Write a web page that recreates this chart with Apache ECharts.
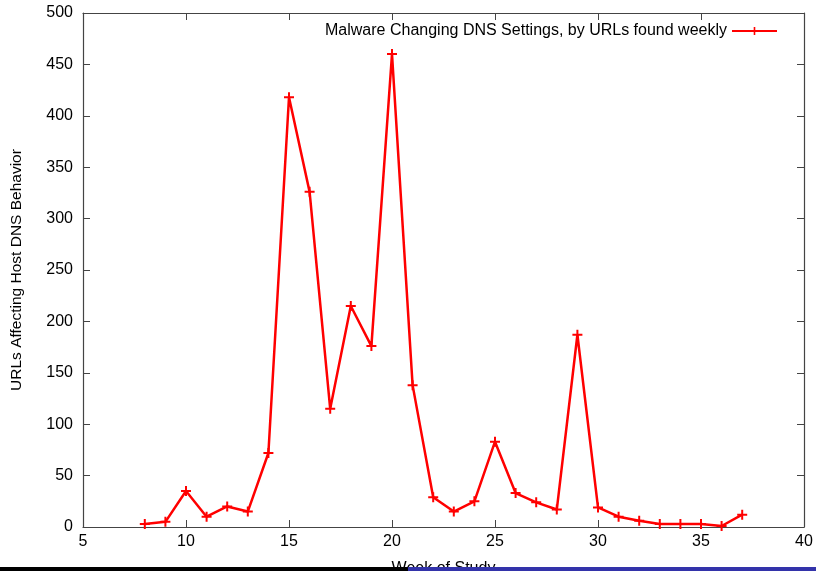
<!DOCTYPE html>
<html><head><meta charset="utf-8">
<script src="https://cdn.jsdelivr.net/npm/echarts@6/dist/echarts.min.js"></script>
<style>html,body{margin:0;padding:0;background:#fff}#c{width:816px;height:571px}</style>
</head><body><div id="c"></div>
<script>
const weeks = [8,9,10,11,12,13,14,15,16,17,18,19,20,21,22,23,24,25,26,27,28,29,30,31,32,33,34,35,36,37];
const urls  = [3,5,35,10,20,15,72,418,326,115,215,176,460,138,29,15,25,83,33,24,17,187,19,10,6,3,3,3,1,12];
const seriesName = 'Malware Changing DNS Settings, by URLs found weekly';
const xTitle = 'Week of Study';
const yTitle = 'URLs Affecting Host DNS Behavior';

const font = 'Liberation Sans, Arial, sans-serif';
const axisCol = '#444';
const plus = 'path://M4,0h2v4h4v2h-4v4h-2v-4h-4v-2h4z';
const chart = echarts.init(document.getElementById('c'));
const common = {
  axisLine:{show:true,onZero:false,lineStyle:{color:axisCol,width:1.2}},
  axisTick:{show:true,inside:true,length:7,lineStyle:{color:axisCol}},
  splitLine:{show:false}
};
chart.setOption({
  animation:false,
  backgroundColor:'#fff',
  grid:{left:83,right:12,top:13,bottom:44,containLabel:false,outerBoundsMode:'none'},
  legend:{
    top:18,right:33,align:'right',itemWidth:45,itemHeight:10,itemGap:11,
    textStyle:{fontFamily:font,fontSize:16,color:'#000'},
    data:[{name:seriesName}]
  },
  xAxis:[
    Object.assign({type:'value',min:5,max:40,interval:5,name:xTitle,nameLocation:'middle',nameGap:34,
      nameTextStyle:{fontFamily:font,fontSize:16,color:'#000'},
      axisLabel:{fontFamily:font,fontSize:16,color:'#000',margin:7}},common),
    Object.assign({type:'value',min:5,max:40,interval:5,position:'top',axisLabel:{show:false}},common)
  ],
  yAxis:[
    Object.assign({type:'value',min:0,max:500,interval:50,name:yTitle,nameLocation:'middle',nameGap:58,
      nameTextStyle:{fontFamily:font,fontSize:15.5,color:'#000'},
      axisLabel:{fontFamily:font,fontSize:16,color:'#000',margin:10}},common),
    Object.assign({type:'value',min:0,max:500,interval:50,position:'right',axisLabel:{show:false}},common)
  ],
  series:[{
    name:seriesName,type:'line',
    data:weeks.map((w,i)=>[w,urls[i]]),
    symbol:plus,symbolSize:10,
    lineStyle:{color:'#ff0000',width:2.5},
    itemStyle:{color:'#ff0000'},
    emphasis:{disabled:true}
  }],
  graphic:[
    {type:'rect',shape:{x:0,y:567,width:408,height:4},style:{fill:'#000'},z:100},
    {type:'rect',shape:{x:408,y:567,width:408,height:4},style:{fill:'#3333aa'},z:100}
  ]
});
</script></body></html>
